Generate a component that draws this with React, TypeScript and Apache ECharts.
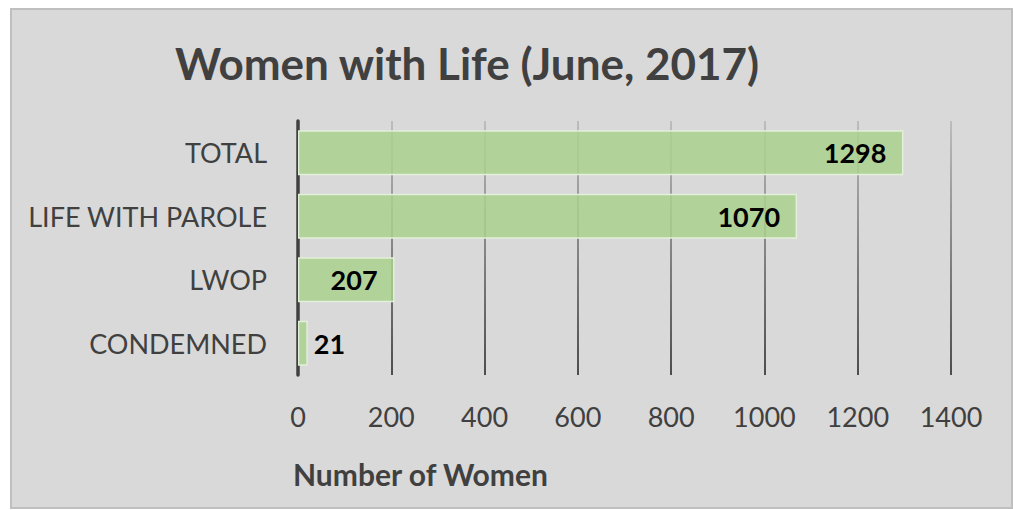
import React, { useEffect, useRef } from "react";
import * as echarts from "echarts";

const categories = ["TOTAL", "LIFE WITH PAROLE", "LWOP", "CONDEMNED"];
const values = [1298, 1070, 207, 21];
const titleText = "Women with Life (June, 2017)";
const axisName = "Number of Women";

export default function App() {
  const ref = useRef<HTMLDivElement>(null);
  useEffect(() => {
    if (!ref.current) return;
    const chart = echarts.init(ref.current, null, { renderer: "svg" });
    const font = "Lato";
    const gridGrad = new echarts.graphic.LinearGradient(0, 121, 0, 375, [
      { offset: 0, color: "#b3b3b3" },
      { offset: 1, color: "#1e1e1e" },
    ], true);
    chart.setOption({
      animation: false,
      backgroundColor: "#ffffff",
      graphic: [
        {
          type: "rect",
          z: -10,
          silent: true,
          shape: { x: 11, y: 9, width: 1001, height: 499 },
          style: { fill: "#d9d9d9", stroke: "#bfbfbf", lineWidth: 2 },
        },
      ],
      title: [
        {
          text: titleText,
          left: 462,
          top: 36,
          textAlign: "center",
          textStyle: { fontFamily: font, fontWeight: "bold", fontSize: 44, color: "#404040" },
        },
        {
          text: axisName,
          left: 288,
          top: 454,
          textStyle: { fontFamily: font, fontWeight: "bold", fontSize: 30, color: "#404040" },
        },
      ],
      grid: { left: 298, right: 62, top: 121, bottom: 135 },
      xAxis: {
        type: "value",
        min: 0,
        max: 1400,
        interval: 200,
        axisLine: { show: false },
        axisTick: { show: false },
        axisLabel: {
          fontFamily: font,
          fontSize: 27,
          color: "#404040",
          margin: 28,
          formatter: (v: number) => String(v),
        },
        splitLine: { show: true, lineStyle: { color: gridGrad, width: 1.5 } },
      },
      yAxis: {
        type: "category",
        data: categories,
        inverse: true,
        axisLine: { show: true, lineStyle: { color: "#404040", width: 3.5 } },
        axisTick: { show: false },
        axisLabel: { fontFamily: font, fontSize: 27, color: "#404040", margin: 31 },
      },
      series: [
        {
          type: "bar",
          barCategoryGap: "29%",
          data: values.map((v) =>
            v < 100
              ? { value: v, label: { position: "right", distance: 6 } }
              : { value: v }
          ),
          itemStyle: {
            color: "rgba(169,209,142,0.85)",
            borderColor: "#e2efd9",
            borderWidth: 1.5,
          },
          label: {
            show: true,
            position: "insideRight",
            distance: 17,
            fontFamily: font,
            fontWeight: "bold",
            fontSize: 27,
            color: "#000000",
          },
        },
      ],
    });
    return () => chart.dispose();
  }, []);
  return (
    <div
      ref={ref}
      style={{ position: "absolute", left: 0, top: 0, width: 1013, height: 510 }}
    />
  );
}
